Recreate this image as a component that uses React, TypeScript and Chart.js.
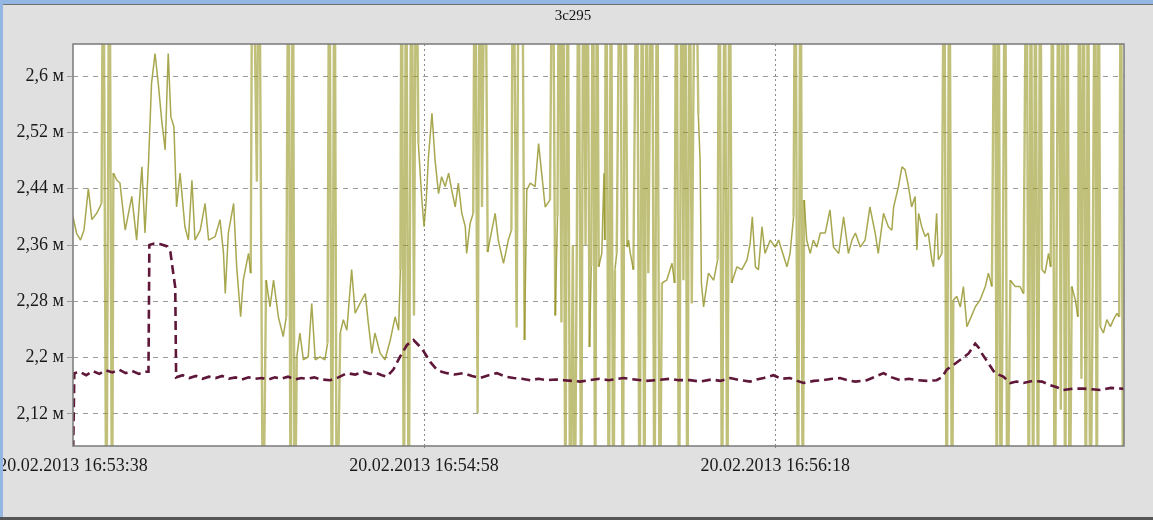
import { useEffect, useRef } from 'react';
import { Chart, registerables } from 'chart.js';

Chart.register(...registerables);

// Off-scale readings: the receiver saturates above / below the visible range.
const HI = 2.9;
const LO = 1.9;

const chartTitle = '3c295';

// Seconds elapsed since 20.02.2013 16:53:38
const xRange = [0, 239.5];
const xTickSeconds = [0, 80, 160];
const xTickLabels = ['20.02.2013 16:53:38', '20.02.2013 16:54:58', '20.02.2013 16:56:18'];

const yRange = [2.0745, 2.6455];
const yTickValues = [2.12, 2.2, 2.28, 2.36, 2.44, 2.52, 2.6];
const yTickLabels = ['2,12 м', '2,2 м', '2,28 м', '2,36 м', '2,44 м', '2,52 м', '2,6 м'];

// Antenna signal: [seconds, value]
const signalSeries: [number, number][] = [
  [0.0, 2.400], [0.8, 2.377], [1.7, 2.367], [2.5, 2.381], [3.5, 2.440], [4.3, 2.396], [5.4, 2.405], [6.5, 2.419],
  [6.9, HI], [7.6, LO], [8.3, HI], [8.9, LO],
  [9.2, 2.462], [10.0, 2.452], [10.7, 2.448], [11.9, 2.381], [13.4, 2.429], [14.5, 2.367], [15.7, 2.471], [16.4, 2.377],
  [17.2, 2.476], [17.9, 2.590], [18.7, 2.632], [19.5, 2.585], [20.2, 2.538], [21.0, 2.495], [21.7, 2.632], [22.3, 2.542],
  [23.0, 2.528], [23.6, 2.414], [24.4, 2.462], [25.5, 2.386], [26.3, 2.367], [27.1, 2.452], [27.8, 2.367], [29.0, 2.381],
  [30.1, 2.419], [30.9, 2.367], [32.4, 2.372], [33.5, 2.396], [34.3, 2.348], [34.7, 2.291], [35.4, 2.377], [36.6, 2.419],
  [37.3, 2.329], [38.2, 2.258], [38.8, 2.310], [40.0, 2.348], [40.5, 2.320],
  [40.9, HI], [41.9, 2.450], [42.4, HI], [43.3, LO],
  [44.0, 2.310], [44.9, 2.272], [45.7, 2.310], [46.8, 2.258], [47.9, 2.230], [48.6, 2.258],
  [49.1, HI], [49.6, LO], [50.1, HI], [50.5, LO],
  [51.0, 2.201], [51.7, 2.235], [52.5, 2.197], [53.6, 2.201], [54.4, 2.277], [55.2, 2.197], [56.3, 2.201], [57.4, 2.197],
  [58.0, 2.220],
  [58.4, HI], [59.0, LO], [59.6, HI], [60.1, LO],
  [60.9, 2.235], [61.6, 2.254], [62.4, 2.239], [63.5, 2.325], [64.3, 2.263], [65.4, 2.277], [66.6, 2.291], [67.3, 2.249],
  [68.1, 2.206], [68.8, 2.235], [70.0, 2.206], [71.1, 2.197], [72.3, 2.225], [73.4, 2.258], [74.2, 2.239], [74.6, 2.325],
  [74.9, HI], [75.4, LO], [75.9, HI], [76.5, LO], [77.1, HI], [77.7, 2.260], [78.2, HI],
  [78.7, 2.504], [79.5, 2.424], [80.0, 2.386], [80.5, 2.424], [81.0, 2.485], [81.8, 2.547], [82.5, 2.481], [83.3, 2.433],
  [84.0, 2.457], [84.8, 2.443], [85.6, 2.462], [86.3, 2.438], [87.1, 2.414], [87.8, 2.448], [88.6, 2.405], [89.4, 2.386],
  [89.7, 2.348], [90.5, 2.391], [91.2, 2.405],
  [91.6, HI], [92.2, 2.121], [92.7, HI],
  [93.2, 2.414],
  [93.9, HI], [94.5, 2.350],
  [95.0, 2.367], [96.2, 2.405], [96.9, 2.367], [98.1, 2.334], [99.2, 2.367], [99.9, 2.381],
  [100.3, HI], [101.1, 2.243], [101.6, HI], [102.3, HI], [102.9, 2.225],
  [103.4, 2.438], [104.2, 2.448], [105.3, 2.443], [106.1, 2.504], [106.8, 2.462], [107.6, 2.414], [108.7, 2.424],
  [109.3, HI], [109.9, 2.260], [110.4, 2.400],
  [110.8, HI], [111.3, 2.250], [111.7, HI], [112.2, LO], [112.7, HI], [113.3, LO],
  [113.9, 2.360], [114.3, LO], [114.8, 2.350],
  [115.2, HI], [115.8, LO], [116.3, HI],
  [116.8, 2.360],
  [117.2, HI], [117.7, 2.215], [118.1, 2.330],
  [118.5, HI], [119.0, LO], [119.4, HI],
  [119.8, 2.329], [120.5, 2.348], [121.0, 2.462], [121.2, 2.367],
  [121.5, HI], [122.1, LO], [122.6, HI], [123.1, LO],
  [123.5, 2.325], [123.9, 2.348],
  [124.7, HI], [125.3, LO], [125.8, HI],
  [126.3, 2.357], [126.6, 2.367], [127.0, 2.348], [127.7, 2.325],
  [128.5, HI], [129.1, LO], [129.7, HI], [130.2, LO], [130.7, HI],
  [131.1, 2.320],
  [131.9, HI], [132.5, LO], [133.1, HI], [133.7, LO],
  [134.2, 2.306], [135.3, 2.310], [136.5, 2.334], [137.1, 2.306],
  [137.5, HI], [138.1, LO], [138.7, HI],
  [139.1, 2.310],
  [139.5, HI], [140.0, LO], [140.5, HI],
  [141.0, 2.277], [141.8, HI], [142.5, 2.545], [142.9, 2.480], [143.2, 2.306], [143.7, 2.272], [144.8, 2.320],
  [146.0, 2.310], [146.9, 2.339],
  [147.3, HI], [147.9, LO], [148.5, HI], [149.1, LO], [149.6, HI],
  [150.1, 2.306], [151.3, 2.329], [152.4, 2.325], [153.6, 2.339], [154.3, 2.362], [154.8, 2.400], [155.5, 2.329],
  [156.2, 2.325], [157.0, 2.386], [157.7, 2.348], [158.9, 2.367], [160.0, 2.357], [160.8, 2.367], [161.5, 2.353],
  [162.7, 2.329], [163.4, 2.348], [164.2, 2.400],
  [164.6, HI], [165.2, LO], [165.8, HI], [166.3, LO],
  [166.6, 2.424], [167.2, 2.367], [168.0, 2.348], [168.7, 2.367], [169.5, 2.357], [170.3, 2.377], [171.4, 2.377],
  [172.5, 2.410], [173.3, 2.357], [174.5, 2.348], [175.6, 2.400], [176.7, 2.348], [177.5, 2.367], [178.3, 2.377],
  [179.4, 2.357], [180.5, 2.367], [181.6, 2.414], [182.8, 2.377], [183.5, 2.348], [184.7, 2.405], [185.8, 2.386],
  [186.6, 2.381], [187.0, 2.414], [188.1, 2.443], [188.9, 2.471], [189.6, 2.467], [190.4, 2.443], [191.1, 2.414],
  [191.9, 2.429], [192.3, 2.353], [192.7, 2.405], [193.4, 2.386], [194.2, 2.372], [194.9, 2.377], [195.7, 2.339],
  [196.1, 2.329], [196.8, 2.405], [197.2, 2.339], [198.0, 2.348],
  [198.5, HI], [199.1, LO], [199.7, HI], [200.3, LO],
  [200.6, 2.282], [201.4, 2.287], [202.2, 2.272], [202.9, 2.301], [203.7, 2.244], [204.4, 2.254], [205.6, 2.272],
  [206.7, 2.282], [207.9, 2.301], [208.6, 2.320], [209.4, 2.301],
  [210.1, HI], [210.5, LO], [210.9, HI], [211.4, LO],
  [211.9, 2.330],
  [212.4, HI], [212.9, LO],
  [213.6, 2.310], [214.7, 2.301], [215.8, 2.301], [216.6, 2.291],
  [217.3, HI], [217.8, LO], [218.3, HI], [218.8, LO], [219.3, HI], [219.9, LO], [220.4, HI],
  [220.8, 2.325], [221.5, 2.320], [222.3, 2.348], [222.8, 2.329],
  [223.2, HI], [223.7, LO],
  [224.2, 2.405],
  [224.6, HI], [225.1, 2.126], [225.6, HI], [226.1, LO], [226.6, HI], [227.1, LO],
  [227.6, 2.301], [228.4, 2.282], [229.0, 2.258],
  [229.3, HI], [229.8, 2.170], [230.3, HI], [230.8, LO], [231.3, HI], [231.8, LO],
  [232.3, 2.240],
  [232.9, HI], [233.3, LO], [233.7, HI],
  [234.1, 2.244], [234.8, 2.235], [235.6, 2.254], [236.4, 2.244], [237.1, 2.254], [237.9, 2.263], [238.4, 2.258],
  [238.8, HI], [239.3, LO],
];

// Reference channel: [seconds, value]
const referenceSeries: [number, number][] = [
  [0.0, 2.05], [0.3, 2.178], [1.5, 2.180], [3.0, 2.175], [4.5, 2.181], [6.0, 2.177], [7.5, 2.182], [9.0, 2.179],
  [10.5, 2.183], [12.0, 2.178], [13.5, 2.181], [15.0, 2.177], [16.5, 2.180], [17.2, 2.180],
  [17.4, 2.360], [18.5, 2.362], [20.0, 2.361], [21.5, 2.358], [22.2, 2.350], [22.8, 2.322], [23.3, 2.300],
  [23.5, 2.172], [25.0, 2.175], [26.5, 2.171], [28.0, 2.174], [29.5, 2.170], [31.0, 2.173], [32.5, 2.171],
  [34.0, 2.174], [35.5, 2.170], [37.0, 2.172], [38.5, 2.169], [40.0, 2.172], [41.5, 2.170], [43.0, 2.171],
  [44.5, 2.169], [46.0, 2.172], [47.5, 2.170], [49.0, 2.173], [50.5, 2.169], [52.0, 2.171], [53.5, 2.170],
  [55.0, 2.172], [56.5, 2.169], [58.6, 2.168], [60.5, 2.172], [62.4, 2.178], [64.3, 2.176], [66.2, 2.180],
  [67.7, 2.177], [69.2, 2.178], [70.4, 2.175], [71.5, 2.173], [73.0, 2.183], [74.5, 2.201], [76.1, 2.218],
  [77.6, 2.225], [78.7, 2.218], [79.9, 2.209], [81.4, 2.194], [82.9, 2.183], [84.0, 2.180], [85.2, 2.178],
  [87.0, 2.176], [89.0, 2.178], [90.9, 2.174], [92.8, 2.171], [94.7, 2.175], [96.6, 2.178], [98.5, 2.173],
  [100.4, 2.171], [102.3, 2.170], [104.2, 2.168], [106.1, 2.170], [108.0, 2.168], [110.0, 2.169], [111.8, 2.168],
  [113.7, 2.167], [115.6, 2.166], [117.8, 2.168], [120.0, 2.170], [122.0, 2.168], [125.4, 2.171], [128.0, 2.169],
  [130.5, 2.167], [133.0, 2.168], [136.0, 2.170], [138.0, 2.168], [140.6, 2.168], [143.0, 2.166], [145.5, 2.169],
  [147.5, 2.167], [149.8, 2.171], [152.0, 2.168], [154.3, 2.166], [155.8, 2.169], [157.4, 2.171], [159.6, 2.175],
  [161.5, 2.170], [163.4, 2.171], [165.0, 2.167], [166.5, 2.164], [168.8, 2.167], [171.0, 2.168], [173.0, 2.170],
  [174.8, 2.171], [176.5, 2.168], [178.3, 2.166], [180.9, 2.168], [182.8, 2.173], [184.7, 2.178], [186.6, 2.172],
  [188.5, 2.168], [190.4, 2.170], [192.3, 2.168], [194.5, 2.167], [196.8, 2.168], [198.0, 2.172], [199.1, 2.183],
  [200.7, 2.190], [202.2, 2.197], [204.1, 2.206], [205.6, 2.220], [206.4, 2.214], [207.1, 2.206], [208.6, 2.192],
  [210.1, 2.178], [212.0, 2.173], [213.6, 2.164], [215.0, 2.166], [216.6, 2.164], [218.7, 2.167], [220.8, 2.166],
  [222.7, 2.161], [224.2, 2.158], [225.7, 2.154], [228.0, 2.156], [230.3, 2.156], [232.2, 2.155], [234.1, 2.154],
  [236.5, 2.157], [239.0, 2.156], [239.5, 2.155],
];

const W = 1153;
const H = 520;
const serif = "'Liberation Serif', 'Times New Roman', serif";
const labelFont = { family: serif, size: 18 };

const traceColor = 'rgba(145,145,35,0.8)';
const saturatedColor = 'rgba(150,150,35,0.6)';

// Segments that run into saturation are drawn as broader, paler strokes.
const isSaturated = (c: any) => {
  const a = c.p0.parsed.y;
  const b = c.p1.parsed.y;
  return a > yRange[1] || a < yRange[0] || b > yRange[1] || b < yRange[0];
};

// White plotting field, grey frame and the caption above it
const plotFrame = {
  id: 'plotFrame',
  beforeDraw(chart: any) {
    const { ctx, chartArea: a } = chart;
    ctx.save();
    ctx.fillStyle = '#ffffff';
    ctx.fillRect(a.left, a.top, a.right - a.left, a.bottom - a.top);
    ctx.restore();
  },
  afterDraw(chart: any) {
    const { ctx, chartArea: a } = chart;
    ctx.save();
    ctx.strokeStyle = '#7a7a7a';
    ctx.lineWidth = 1.5;
    ctx.strokeRect(a.left, a.top, a.right - a.left, a.bottom - a.top);
    ctx.fillStyle = '#111111';
    ctx.font = `15px ${serif}`;
    ctx.textAlign = 'center';
    ctx.textBaseline = 'middle';
    ctx.fillText(chartTitle, 573, 16);
    ctx.restore();
  },
};

export default function App() {
  const canvasRef = useRef<HTMLCanvasElement>(null);

  useEffect(() => {
    const canvas = canvasRef.current;
    if (!canvas) return;
    const chart = new Chart(canvas, {
      type: 'line',
      data: {
        datasets: [
          {
            label: 'reference',
            data: referenceSeries.map(([x, y]) => ({ x, y })),
            borderColor: '#5f1739',
            borderWidth: 2.6,
            borderDash: [9, 5],
            pointRadius: 0,
            tension: 0,
            clip: 0,
            order: 0,
          },
          {
            label: chartTitle,
            data: signalSeries.map(([x, y]) => ({ x, y })),
            borderColor: traceColor,
            borderWidth: 1.5,
            borderJoinStyle: 'bevel',
            pointRadius: 0,
            tension: 0,
            clip: 0,
            order: 1,
            segment: {
              borderWidth: (c: any) => (isSaturated(c) ? 2.4 : 1.5),
              borderColor: (c: any) => (isSaturated(c) ? saturatedColor : traceColor),
            },
          },
        ],
      },
      options: {
        responsive: false,
        animation: false,
        devicePixelRatio: 1,
        events: [],
        layout: { autoPadding: false, padding: { left: 0, right: 29, top: 44, bottom: 0 } },
        plugins: {
          legend: { display: false },
          tooltip: { enabled: false },
          title: { display: false },
        },
        scales: {
          x: {
            type: 'linear',
            min: xRange[0],
            max: xRange[1],
            afterBuildTicks: (axis: any) => {
              axis.ticks = xTickSeconds.map((value) => ({ value }));
            },
            afterFit: (scale: any) => {
              scale.height = 74;
              scale.paddingLeft = 0;
              scale.paddingRight = 0;
            },
            ticks: {
              autoSkip: false,
              maxRotation: 0,
              padding: 4,
              color: '#1a1a1a',
              font: labelFont,
              callback: (value: any) => {
                const i = xTickSeconds.findIndex((s) => Math.abs(s - Number(value)) < 1e-6);
                return i >= 0 ? xTickLabels[i] : '';
              },
            },
            grid: {
              color: (c: any) => (c.tick && c.tick.value === 0 ? 'rgba(0,0,0,0)' : '#8a8a8a'),
              lineWidth: 1,
              tickLength: 5,
              tickBorderDash: [2, 3],
            },
            border: { display: false, dash: [2, 3] },
          },
          y: {
            type: 'linear',
            min: yRange[0],
            max: yRange[1],
            afterBuildTicks: (axis: any) => {
              axis.ticks = yTickValues.map((value) => ({ value }));
            },
            afterFit: (scale: any) => {
              scale.width = 73;
              scale.paddingTop = 0;
              scale.paddingBottom = 0;
            },
            ticks: {
              autoSkip: false,
              padding: 3,
              color: '#1a1a1a',
              font: labelFont,
              callback: (value: any) => {
                const i = yTickValues.findIndex((v) => Math.abs(v - Number(value)) < 1e-6);
                return i >= 0 ? yTickLabels[i] : '';
              },
            },
            grid: {
              color: '#9a9a9a',
              lineWidth: 1,
              tickLength: 6,
              tickBorderDash: [5, 5],
            },
            border: { display: false, dash: [5, 5] },
          },
        },
      },
      plugins: [plotFrame],
    } as any);
    return () => chart.destroy();
  }, []);

  return (
    <div
      style={{
        position: 'fixed',
        left: 0,
        top: 0,
        width: W,
        height: H,
        background: '#e0e0e0',
        overflow: 'hidden',
      }}
    >
      <canvas ref={canvasRef} width={W} height={H} style={{ display: 'block', width: W, height: H }} />
      <div style={{ position: 'absolute', left: 0, top: 0, width: W, height: 4, background: '#93b6e2' }} />
      <div style={{ position: 'absolute', left: 0, top: 4, width: W, height: 1, background: '#6f6f6f' }} />
      <div style={{ position: 'absolute', left: 0, top: 0, width: 3, height: H, background: '#93b6e2' }} />
      <div style={{ position: 'absolute', left: 0, top: H - 3, width: W, height: 3, background: '#555555' }} />
    </div>
  );
}
